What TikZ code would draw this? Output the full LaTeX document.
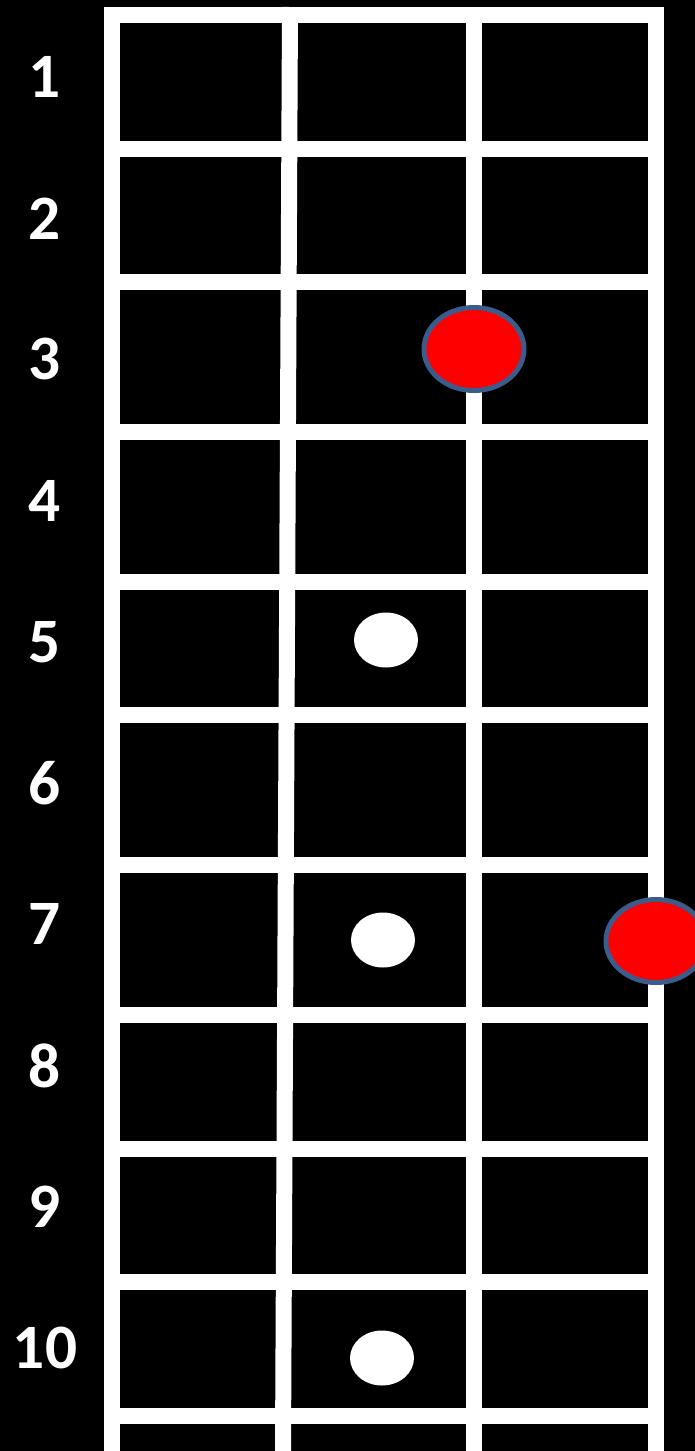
\documentclass[tikz,border=0pt]{standalone}
\usepackage{fontspec}
\setmainfont{Carlito}
\usetikzlibrary{shapes.geometric}
\definecolor{rootred}{RGB}{255,0,0}
\definecolor{rootrim}{RGB}{59,92,138}

\begin{document}
\begin{tikzpicture}[
    x=0.02cm, y=-0.02cm,
    fret/.style={draw=white, line width=0.32cm},
    fretnum/.style={text=white, inner sep=0pt, font=\bfseries\fontsize{36}{40}\selectfont},
    marker/.style={ellipse, fill=white, inner sep=0pt, minimum width=1.28cm, minimum height=1.1cm},
    root/.style={ellipse, draw=rootrim, fill=rootred, line width=0.1cm, inner sep=0pt, minimum width=2cm, minimum height=1.66cm}
]

% Background
\fill[black] (0,0) rectangle (695,1451);
\useasboundingbox (0,0) rectangle (695,1451);

% Strings
\draw[fret] (112,7) -- (112,1451);
\draw[fret] (290,7) -- (283,1451);
\draw[fret] (474,7) -- (474,1451);
\draw[fret] (656,7) -- (656,1451);

% Frets
\draw[fret] (104,15) -- (664,15);
\draw[fret] (104,149) -- (664,149);
\draw[fret] (104,282) -- (664,282);
\draw[fret] (104,432) -- (664,432);
\draw[fret] (104,582) -- (664,582);
\draw[fret] (104,715) -- (664,715);
\draw[fret] (104,865) -- (664,865);
\draw[fret] (104,1015) -- (664,1015);
\draw[fret] (104,1149) -- (664,1149);
\draw[fret] (104,1282) -- (664,1282);
\draw[fret] (104,1416) -- (664,1416);

% Fret numbers
\node[fretnum] (n1) at (45,77) {1};
\node[fretnum] (n2) at (45,219) {2};
\node[fretnum] (n3) at (45,359) {3};
\node[fretnum] (n4) at (45,501) {4};
\node[fretnum] (n5) at (45,642) {5};
\node[fretnum] (n6) at (45,783) {6};
\node[fretnum] (n7) at (45,924) {7};
\node[fretnum] (n8) at (45,1066) {8};
\node[fretnum] (n9) at (45,1207) {9};
\node[fretnum] (n10) at (45,1348) {10};

% Position markers
\node[marker] (m5) at (386,640) {};
\node[marker] (m7) at (383,940) {};
\node[marker] (m10) at (382,1358) {};

% Root notes
\node[root] (r3) at (474,349) {};
\node[root] (r7) at (656,941) {};

\end{tikzpicture}
\end{document}
